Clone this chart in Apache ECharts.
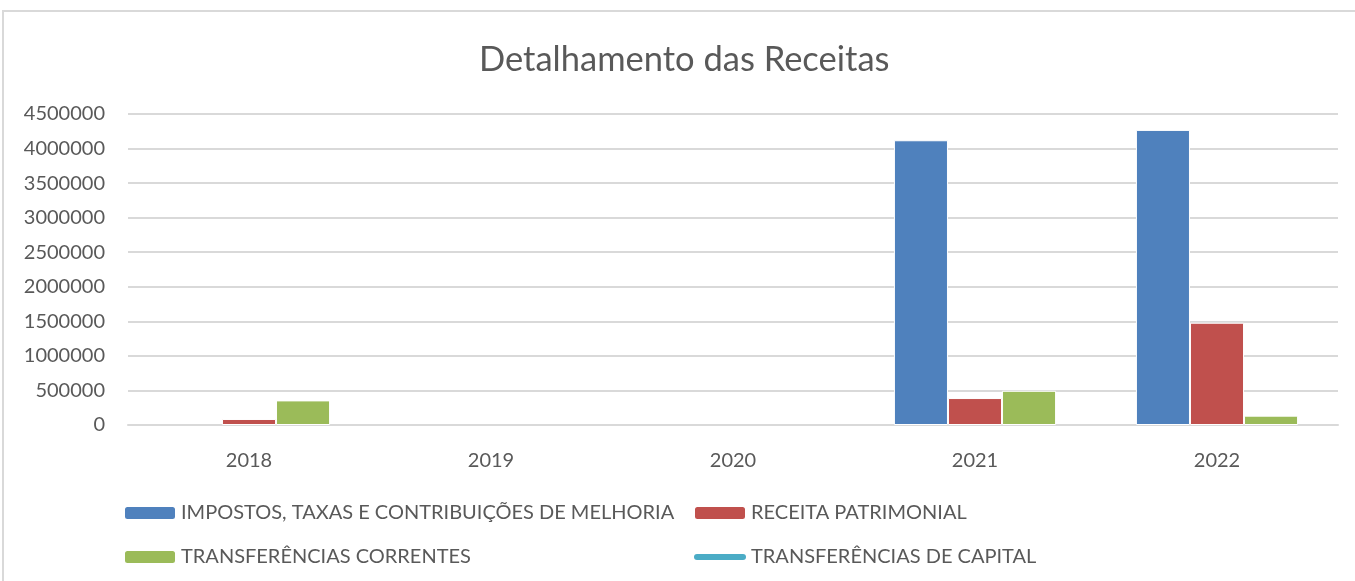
<!DOCTYPE html>
<html>
<head>
<meta charset="utf-8">
<title>Detalhamento das Receitas</title>
<script src="https://cdn.jsdelivr.net/npm/echarts@6/dist/echarts.min.js"></script>
<style>
  html, body { margin: 0; padding: 0; background: #fff; }
  #chart { width: 1355px; height: 581px; }
</style>
</head>
<body>
<div id="chart"></div>
<script>
// dados (null = sem barra no ano)
const anos = ["2018", "2019", "2020", "2021", "2022"];
const impostos = [null, null, null, 4120000, 4270000];
const receitaPatrimonial = [87000, null, null, 390000, 1480000];
const transfCorrentes = [356000, null, null, 495000, 135000];
const transfCapital = [null, null, null, null, null];

const nomes = [
  "IMPOSTOS, TAXAS E CONTRIBUIÇÕES DE MELHORIA",
  "RECEITA PATRIMONIAL",
  "TRANSFERÊNCIAS CORRENTES",
  "TRANSFERÊNCIAS DE CAPITAL",
];
const cores = ["#4f81bd", "#c0504d", "#9bbb59", "#4bacc6"];

const fonte = "Lato, 'Open Sans', sans-serif";
const cinzaTexto = "#595959";
const cinzaLinha = "#d9d9d9";

// ícone de linha grossa com pontas arredondadas (legenda da série de linha)
const iconeLinha = "path://M3,0 L49,0 A3,3 0 0 1 49,6 L3,6 A3,3 0 0 1 3,0 Z";

const myChart = echarts.init(document.getElementById("chart"));

const legendaBase = {
  orient: "vertical",
  top: 503,
  padding: 0,
  itemWidth: 52,
  itemHeight: 14,
  itemGap: 24,
  symbolKeepAspect: true,
  textStyle: { fontFamily: fonte, fontSize: 20, color: cinzaTexto },
  selectedMode: false,
};

const barra = (nome, dados, cor) => ({
  name: nome,
  type: "bar",
  data: dados,
  barGap: "0%",
  barCategoryGap: "33%",
  itemStyle: { color: cor, borderColor: "#fff", borderWidth: 1 },
});

const options = {
  animation: false,
  color: cores,
  title: {
    text: "Detalhamento das Receitas",
    left: 479,
    top: 42,
    padding: 0,
    textStyle: { fontFamily: fonte, fontSize: 34.5, fontWeight: "normal", color: cinzaTexto },
  },
  graphic: [
    {
      type: "rect",
      shape: { x: 3, y: 11, width: 1400, height: 600 },
      style: { fill: "none", stroke: cinzaLinha, lineWidth: 2 },
      silent: true,
    },
  ],
  legend: [
    Object.assign({}, legendaBase, {
      left: 123,
      data: [nomes[0], nomes[2]],
    }),
    Object.assign({}, legendaBase, {
      left: 693,
      data: [nomes[1], { name: nomes[3], icon: iconeLinha, itemStyle: { color: cores[3] } }],
    }),
  ],
  grid: { left: 128, right: 17, top: 114, bottom: 156, containLabel: false },
  xAxis: {
    type: "category",
    data: anos,
    axisLine: { lineStyle: { color: cinzaLinha, width: 2 } },
    axisTick: { show: false },
    axisLabel: { fontFamily: fonte, fontSize: 20, color: cinzaTexto, margin: 26 },
  },
  yAxis: {
    type: "value",
    min: 0,
    max: 4500000,
    interval: 500000,
    axisLine: { show: false },
    axisTick: { show: false },
    axisLabel: {
      fontFamily: fonte,
      fontSize: 20,
      color: cinzaTexto,
      margin: 23,
      formatter: (v) => String(v),
    },
    splitLine: { lineStyle: { color: cinzaLinha, width: 2 } },
  },
  series: [
    barra(nomes[0], impostos, cores[0]),
    barra(nomes[1], receitaPatrimonial, cores[1]),
    barra(nomes[2], transfCorrentes, cores[2]),
    {
      name: nomes[3],
      type: "line",
      data: transfCapital,
      symbol: "none",
      lineStyle: { color: cores[3], width: 5, cap: "round" },
      itemStyle: { color: cores[3] },
    },
  ],
};

myChart.setOption(options);
</script>
</body>
</html>
